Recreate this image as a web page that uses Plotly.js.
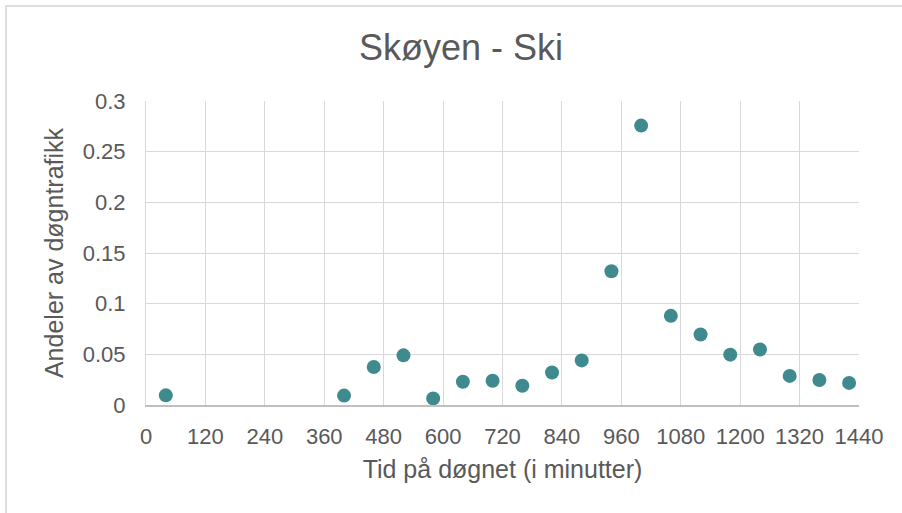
<!DOCTYPE html>
<html>
<head>
<meta charset="utf-8">
<script src="https://cdn.plot.ly/plotly-3.0.1.min.js"></script>
<style>
html,body{margin:0;padding:0;background:#fff;overflow:hidden;}
#chart{width:902px;height:513px;position:absolute;left:0;top:0;}
#frame{position:absolute;left:5px;top:5px;width:1000px;height:1000px;border:2px solid #dedede;pointer-events:none;}
</style>
</head>
<body>
<div id="chart"></div>
<div id="frame"></div>
<script>
var minutes = [40, 400, 460, 520, 580, 640, 700, 760, 820, 880, 940, 1000, 1060, 1120, 1180, 1240, 1300, 1360, 1420];
var shares = [0.0095, 0.0093, 0.0375, 0.049, 0.0065, 0.023, 0.024, 0.019, 0.032, 0.044, 0.132, 0.2757, 0.088, 0.0695, 0.0497, 0.0548, 0.0287, 0.0247, 0.0218];
var xTicks = [0, 120, 240, 360, 480, 600, 720, 840, 960, 1080, 1200, 1320, 1440];
var yTicks = [0, 0.05, 0.1, 0.15, 0.2, 0.25, 0.3];
var yTickText = ['0', '0.05', '0.1', '0.15', '0.2', '0.25', '0.3'];

var FONT = 'Liberation Sans, Arial, sans-serif';
var GREY = '#595959';

Plotly.newPlot('chart', [{
  x: minutes,
  y: shares,
  type: 'scatter',
  mode: 'markers',
  marker: {size: 14, color: '#3f8a8f'},
  hoverinfo: 'x+y'
}], {
  width: 902,
  height: 513,
  paper_bgcolor: '#ffffff',
  plot_bgcolor: '#ffffff',
  margin: {l: 146, r: 43, t: 101, b: 108},
  showlegend: false,
  font: {family: FONT, color: GREY},
  title: {
    text: 'Skøyen - Ski',
    font: {family: FONT, size: 36, color: GREY},
    xref: 'container', x: 461 / 902, xanchor: 'center',
    yref: 'container', y: 1 - 47 / 513, yanchor: 'middle'
  },
  xaxis: {
    range: [0, 1440],
    tickvals: xTicks,
    ticktext: xTicks.map(String),
    tickfont: {family: FONT, size: 22, color: GREY},
    ticks: '',
    ticklabelstandoff: 11,
    showgrid: true,
    gridcolor: '#d9d9d9',
    gridwidth: 1,
    zeroline: false,
    showline: true,
    linecolor: '#bfbfbf',
    linewidth: 1.5,
    title: {text: 'Tid på døgnet (i minutter)', font: {family: FONT, size: 25, color: GREY}, standoff: 12}
  },
  yaxis: {
    range: [0, 0.3],
    tickvals: yTicks,
    ticktext: yTickText,
    tickfont: {family: FONT, size: 22, color: GREY},
    ticks: '',
    ticklabelstandoff: 15,
    showgrid: true,
    gridcolor: '#d9d9d9',
    gridwidth: 1,
    zeroline: false,
    showline: true,
    linecolor: '#d9d9d9',
    linewidth: 1,
    title: {text: 'Andeler av døgntrafikk', font: {family: FONT, size: 25, color: GREY}, standoff: 12}
  }
}, {displayModeBar: false, staticPlot: true});
</script>
</body>
</html>
